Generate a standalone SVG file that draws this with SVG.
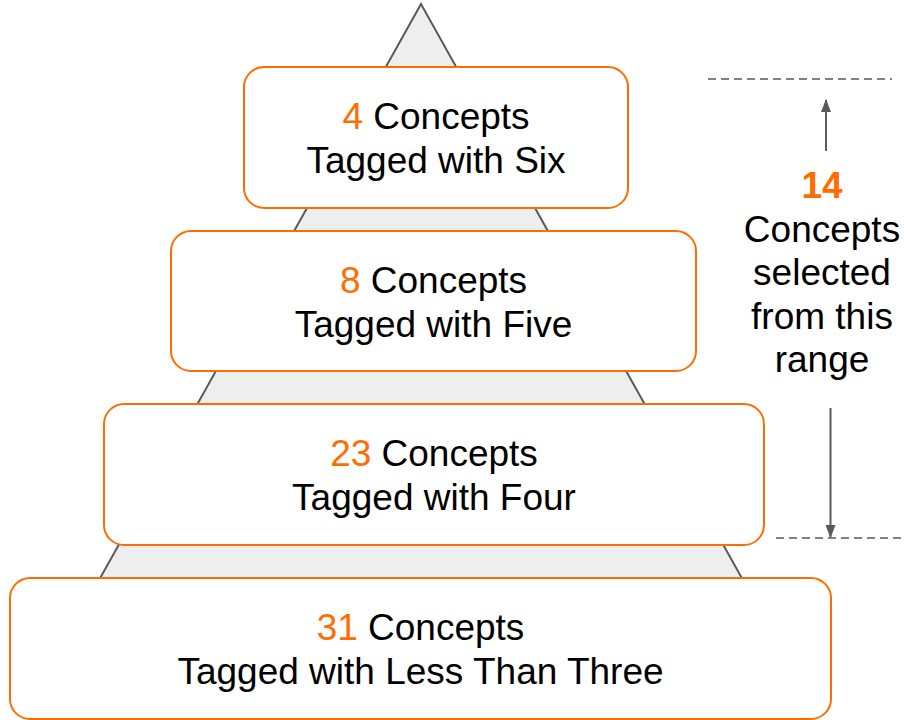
<svg xmlns="http://www.w3.org/2000/svg" width="904" height="720" viewBox="0 0 904 720">
  <style>
    .tier { fill: #ffffff; stroke: #ff6d01; stroke-width: 2; }
    .label { font-family: "Liberation Sans", Arial, sans-serif; font-size: 37px; fill: #000000; text-anchor: middle; }
    .num { fill: #ff6d01; }
    .guide { stroke: #595959; stroke-width: 1.6; stroke-dasharray: 8 5; fill: none; }
    .arrow { stroke: #595959; stroke-width: 2; fill: none; }
  </style>
  <defs>
    <marker id="head" viewBox="0 0 13 10" refX="12" refY="5" markerWidth="6.5" markerHeight="5" markerUnits="strokeWidth" orient="auto">
      <path d="M0,0 L13,5 L0,10 Z" fill="#595959"/>
    </marker>
  </defs>
  <rect width="904" height="720" fill="#ffffff"/>

  <!-- pyramid behind the tiers -->
  <polygon id="pyramid" points="421,4 32,700 810,700" fill="#eeeeee" stroke="#595959" stroke-width="2" stroke-linejoin="miter"/>

  <g id="tier-six">
    <rect class="tier" x="244" y="67" width="384" height="141" rx="20" ry="20"/>
    <text class="label" x="436" y="129"><tspan class="num">4</tspan> Concepts</text>
    <text class="label" x="436" y="173">Tagged with Six</text>
  </g>

  <g id="tier-five">
    <rect class="tier" x="171" y="231" width="525" height="140" rx="20" ry="20"/>
    <text class="label" x="433.5" y="292.5"><tspan class="num">8</tspan> Concepts</text>
    <text class="label" x="433.5" y="336.5">Tagged with Five</text>
  </g>

  <g id="tier-four">
    <rect class="tier" x="104" y="404" width="660" height="141" rx="20" ry="20"/>
    <text class="label" x="434" y="465.5"><tspan class="num">23</tspan> Concepts</text>
    <text class="label" x="434" y="509.5">Tagged with Four</text>
  </g>

  <g id="tier-less-than-three">
    <rect class="tier" x="10" y="578" width="821" height="141" rx="20" ry="20"/>
    <text class="label" x="420.5" y="640"><tspan class="num">31</tspan> Concepts</text>
    <text class="label" x="420.5" y="684">Tagged with Less Than Three</text>
  </g>

  <g id="range-note">
    <text class="label" x="822" y="198" font-weight="bold" style="fill:#ff6d01">14</text>
    <text class="label" x="822" y="241.5">Concepts</text>
    <text class="label" x="822" y="285">selected</text>
    <text class="label" x="822" y="328.5">from this</text>
    <text class="label" x="822" y="372">range</text>
  </g>

  <g id="connectors">
    <line class="guide" x1="708" y1="79" x2="892" y2="79"/>
    <line class="guide" x1="776" y1="538" x2="904" y2="538"/>
    <line class="arrow" x1="826" y1="151" x2="826" y2="100" marker-end="url(#head)"/>
    <line class="arrow" x1="830.5" y1="408" x2="830.5" y2="537" marker-end="url(#head)"/>
  </g>
</svg>
